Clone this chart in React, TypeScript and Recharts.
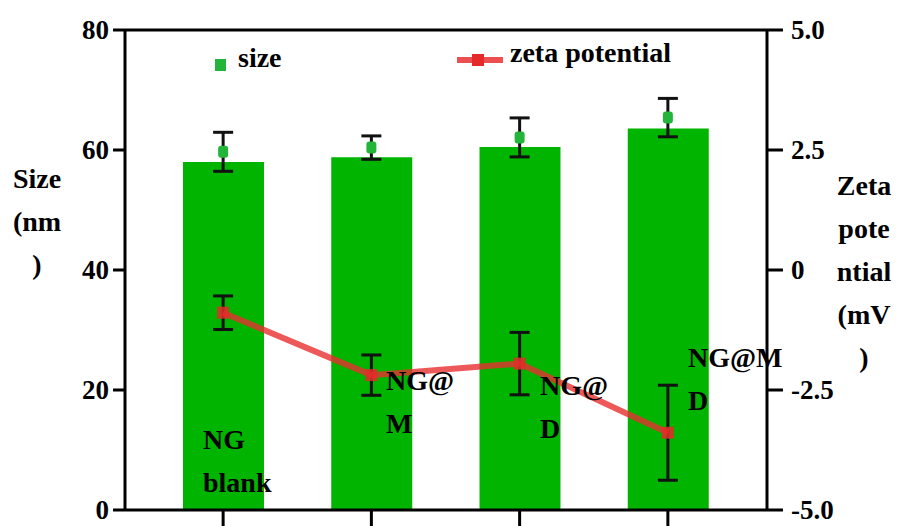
import React from 'react';
import {
  ComposedChart, Bar, Line, Scatter, XAxis, YAxis, ErrorBar, ReferenceLine,
} from 'recharts';

const categories = ['NG blank', 'NG@M', 'NG@D', 'NG@MD'];
const sizeBar = [58, 58.8, 60.5, 63.6];
const sizeMean = [59.7, 60.4, 62.1, 65.4];
const sizeErr = [3.25, 1.95, 3.25, 3.2];
const zeta = [-0.89, -2.19, -1.95, -3.39];
const zetaErr = [0.35, 0.42, 0.65, 0.99];

const leftTicks = [0, 20, 40, 60, 80];
const rightTicks = [-5, -2.5, 0, 2.5, 5];
const rightTickLabels = ['-5.0', '-2.5', '0', '2.5', '5.0'];
// faint minor ticks under the x axis (decoration only)
const minorTicks = Array.from({ length: 61 }, (_, i) => i);

const data = categories.map((name, i) => ({
  name,
  sizeBar: sizeBar[i],
  sizeMean: sizeMean[i],
  sizeErr: sizeErr[i],
  zeta: zeta[i],
  zetaErr: zetaErr[i],
}));

const FONT = "'Liberation Serif', 'Times New Roman', 'DejaVu Serif', serif";

const textBase: React.CSSProperties = {
  position: 'absolute',
  fontFamily: FONT,
  fontWeight: 700,
  fontSize: 28,
  lineHeight: '43px',
  color: '#000',
  whiteSpace: 'nowrap',
};

const AxisTick = (props: any) => {
  const { x, y, payload, textAnchor, side } = props;
  const label = side === 'right'
    ? rightTickLabels[rightTicks.indexOf(payload.value)]
    : String(payload.value);
  return (
    <text
      x={x}
      y={y}
      dy="0.35em"
      textAnchor={textAnchor}
      style={{ fontFamily: FONT, fontWeight: 700, fontSize: 27, fill: '#000' }}
    >
      {label}
    </text>
  );
};

const SquareDot = (props: any) => {
  const { cx, cy } = props;
  if (cx == null || cy == null) return null;
  return <rect x={cx - 6} y={cy - 6} width={12} height={12} fill="#e52a2a" fillOpacity={0.85} />;
};

const GreenDot = (props: any) => {
  const { cx, cy } = props;
  if (cx == null || cy == null) return null;
  return <rect x={cx - 5} y={cy - 6} width={10} height={12} rx={3} fill="#22b53a" />;
};

const EmptyTick = () => <g />;

export default function App() {
  return (
    <div style={{ position: 'absolute', left: 0, top: 0, width: 898, height: 526, background: '#fff' }}>
      <ComposedChart
        width={898}
        height={526}
        data={data}
        margin={{ top: 30, right: 71, bottom: 0, left: 65 }}
      >
        <XAxis
          xAxisId="minor"
          type="number"
          domain={[0, 60]}
          ticks={minorTicks}
          interval={0}
          height={0}
          axisLine={false}
          tickLine={{ stroke: '#bbb', strokeWidth: 1 }}
          tickSize={5}
          tick={<EmptyTick />}
        />
        <XAxis
          dataKey="name"
          height={16}
          padding={{ left: 24, right: 25 }}
          axisLine={{ stroke: '#000', strokeWidth: 3 }}
          tickLine={{ stroke: '#000', strokeWidth: 3 }}
          tickSize={16}
          tick={<EmptyTick />}
        />
        <YAxis
          yAxisId="left"
          width={60}
          domain={[0, 80]}
          ticks={leftTicks}
          interval={0}
          axisLine={{ stroke: '#000', strokeWidth: 3 }}
          tickLine={{ stroke: '#000', strokeWidth: 3 }}
          tickSize={12}
          tickMargin={4}
          tick={<AxisTick side="left" />}
        />
        <YAxis
          yAxisId="right"
          orientation="right"
          width={60}
          domain={[-5, 5]}
          ticks={rightTicks}
          interval={0}
          axisLine={{ stroke: '#000', strokeWidth: 3 }}
          tickLine={{ stroke: '#000', strokeWidth: 3 }}
          tickSize={16}
          tickMargin={8}
          tick={<AxisTick side="right" />}
        />
        <ReferenceLine yAxisId="left" y={80} stroke="#000" strokeWidth={3} />
        <Bar yAxisId="left" dataKey="sizeBar" fill="#00b400" barSize={81} isAnimationActive={false} />
        <Scatter yAxisId="left" dataKey="sizeMean" shape={<GreenDot />} isAnimationActive={false}>
          <ErrorBar dataKey="sizeErr" direction="y" width={10} strokeWidth={3} stroke="#111" />
        </Scatter>
        <Line
          yAxisId="right"
          dataKey="zeta"
          stroke="#e83030"
          strokeOpacity={0.8}
          strokeWidth={6}
          dot={<SquareDot />}
          activeDot={false}
          isAnimationActive={false}
        >
          <ErrorBar dataKey="zetaErr" direction="y" width={10} strokeWidth={3} stroke="#111" />
        </Line>
      </ComposedChart>

      {/* legend */}
      <div style={{ position: 'absolute', left: 215, top: 59, width: 11, height: 12, background: '#22b53a' }} />
      <div style={{ ...textBase, left: 238, top: 36 }}>size</div>
      <div style={{ position: 'absolute', left: 457, top: 57, width: 46, height: 6, background: '#e83030', opacity: 0.85 }} />
      <div style={{ position: 'absolute', left: 472, top: 54, width: 12, height: 12, background: '#e52a2a' }} />
      <div style={{ ...textBase, left: 510, top: 31 }}>zeta potential</div>

      {/* axis titles */}
      <div style={{ ...textBase, left: 0, top: 157, width: 74, textAlign: 'center' }}>
        Size<br />(nm<br />)
      </div>
      <div style={{ ...textBase, left: 830, top: 164, width: 68, textAlign: 'center' }}>
        Zeta<br />pote<br />ntial<br />(mV<br />)
      </div>

      {/* category labels */}
      <div style={{ ...textBase, left: 203, top: 418 }}>NG<br />blank</div>
      <div style={{ ...textBase, left: 386, top: 359 }}>NG@<br />M</div>
      <div style={{ ...textBase, left: 540, top: 364 }}>NG@<br />D</div>
      <div style={{ ...textBase, left: 688, top: 336 }}>NG@M<br />D</div>
    </div>
  );
}
